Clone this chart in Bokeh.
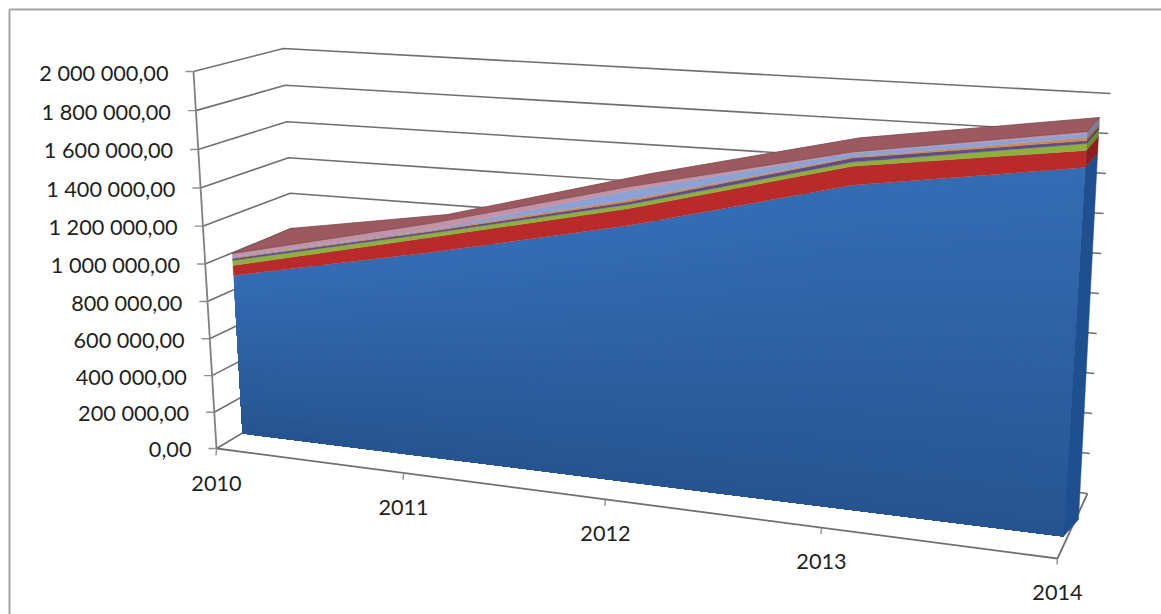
from bokeh.plotting import figure
from bokeh.models import Range1d
from bokeh.core.properties import value
from bokeh.embed import file_html
from bokeh.resources import INLINE

# ---- data (thousands, stacked bottom to top) ----
years = ["2010", "2011", "2012", "2013", "2014"]
tick_labels = ["0,00", "200 000,00", "400 000,00", "600 000,00", "800 000,00", "1 000 000,00",
               "1 200 000,00", "1 400 000,00", "1 600 000,00", "1 800 000,00", "2 000 000,00"]
s_blue = [854, 1072, 1295, 1577, 1736]
s_red = [54, 78, 86, 93, 81]
s_green = [27, 21, 20, 20, 32]
s_purple = [11, 10, 15, 20, 14]
s_orange = [5, 6, 10, 5, 15]
s_periwinkle = [6, 5, 45, 20, 18]
s_pink = [16, 31, 21, 5, 10]
upper_series = [s_red, s_green, s_purple, s_orange, s_periwinkle, s_pink]
upper_colors = ["#B92B2B", "#8FB03F", "#5F4E86", "#D08A55", "#8DA2D4", "#C392A4"]
side_colors = ["#8C2020", "#6E8A30", "#4A3C6A", "#A06A40", "#6C7FA8", "#957080"]
top_color = "#9C5A60"

# ---- projection helpers ----
plane_t = [0, .235, .47, .73, 1]
axis_t = [0, .2224, .4625, .7194, 1]
depth_dx = [58, 18, 22, 7, 12]
depth_dy = [-25, -9, -13, -14, -14]


def front(t, v):
    k = v / 200.0
    x = 242 + 821 * t + k * (-2.1 + 4.6 * t)
    y = 433 + 103 * t - k * (37 + 5.5 * t)
    return x, y


def wall_left(k):
    j = 10 - k
    return 216 - 2.3 * k, 71 + 39.3 * j - .16 * j * j


def wall_back_left(k):
    j = 10 - k
    return 283 + 1.7 * j, 48 + 37 * j - .2 * j * j


def wall_back_right(k):
    return 1087 + 2.3 * k, 493 - 40 * k


p = figure(width=1161, height=614, output_backend="svg", toolbar_location=None,
           x_range=Range1d(0, 1161), y_range=Range1d(614, 0),
           min_border=0, x_axis_type=None, y_axis_type=None)
p.grid.visible = False
p.outline_line_color = None
p.background_fill_color = "white"
p.border_fill_color = "white"

# chart frame: only the top and left edges show
p.line([9, 1161], [9, 9], line_color="#A3A3A3", line_width=2)
p.line([9, 9], [9, 614], line_color="#A3A3A3", line_width=2)

GRID = "#707070"
for k in range(11):
    a, b, c = wall_left(k), wall_back_left(k), wall_back_right(k)
    p.line([a[0], b[0], c[0]], [a[1], b[1], c[1]], line_color=GRID, line_width=1.6)
    p.line([a[0] - 8, a[0]], [a[1], a[1]], line_color="#909090", line_width=1.4)
p.line([wall_left(0)[0], wall_left(10)[0]], [wall_left(0)[1], wall_left(10)[1]], line_color="#808080", line_width=1.8)

fl, fr, br = (216, 448), (1057, 558), wall_back_right(0)
p.line([fl[0], fr[0], br[0]], [fl[1], fr[1], br[1]], line_color=GRID, line_width=1.8)
for t in axis_t:
    ax, ay = 216 + 841 * t, 449 + 109 * t
    p.line([ax, ax - .5], [ay, ay + 6], line_color="#909090", line_width=1.4)

n = len(years)
ts = plane_t


def lerp_rgb(a, b, f):
    return "#%02X%02X%02X" % tuple(round(a[i] + (b[i] - a[i]) * f) for i in range(3))


def side_point(v):
    k = v / 200.0
    fx, fy = front(1, v)
    return fx + 15 - .3 * k, fy - 17 + .3 * k


tops = [s_blue[:]]
for s in upper_series:
    tops.append([tops[-1][i] + s[i] for i in range(n)])

lo = 0
for v_hi, col in zip([tp[-1] for tp in tops], ["#1F4F8E"] + side_colors):
    xs = [front(1, lo)[0], front(1, v_hi)[0], side_point(v_hi)[0], side_point(lo)[0]]
    ys = [front(1, lo)[1], front(1, v_hi)[1], side_point(v_hi)[1], side_point(lo)[1]]
    p.patch(xs, ys, fill_color=col, line_color=col, line_width=.5)
    lo = v_hi

# blue front face: graded, painted from the full area down to the thinnest
N = 48
bot, top = (38, 84, 144), (52, 108, 180)
for b in range(N, 0, -1):
    f1 = b / N
    lower = [front(ts[i], 0) for i in range(n)]
    upper = [front(ts[i], s_blue[i] * f1) for i in range(n)]
    xs = [q[0] for q in lower] + [q[0] for q in upper[::-1]]
    ys = [q[1] for q in lower] + [q[1] for q in upper[::-1]]
    c = lerp_rgb(bot, top, f1)
    p.patch(xs, ys, fill_color=c, line_color=None)

for idx, col in enumerate(upper_colors):
    lower = [front(ts[i], tops[idx][i]) for i in range(n)]
    upper = [front(ts[i], tops[idx + 1][i]) for i in range(n)]
    xs = [q[0] for q in lower] + [q[0] for q in upper[::-1]]
    ys = [q[1] for q in lower] + [q[1] for q in upper[::-1]]
    p.patch(xs, ys, fill_color=col, line_color=col, line_width=.4)

f_edge = [front(ts[i], tops[-1][i]) for i in range(n)]
b_edge = [(f_edge[i][0] + depth_dx[i], f_edge[i][1] + depth_dy[i]) for i in range(n)]
p.patch([q[0] for q in f_edge] + [q[0] for q in b_edge[::-1]],
        [q[1] for q in f_edge] + [q[1] for q in b_edge[::-1]],
        fill_color=top_color, line_color="#7A4A50", line_width=.8)

lab_x = [wall_left(k)[0] - 25 for k in range(11)]
lab_y = [wall_left(k)[1] + 1 for k in range(11)]
p.text(lab_x, lab_y, text=tick_labels, text_font=value("Lato"), text_font_size="21.7px",
       text_color="#1F1F1F", text_align="right", text_baseline="middle")
p.text([216 + 841 * t for t in axis_t], [449 + 109 * t + 34 for t in axis_t], text=years,
       text_font=value("Lato"), text_font_size="21.7px", text_color="#1F1F1F",
       text_align="center", text_baseline="middle")

open("out.html", "w").write(file_html(p, INLINE))
